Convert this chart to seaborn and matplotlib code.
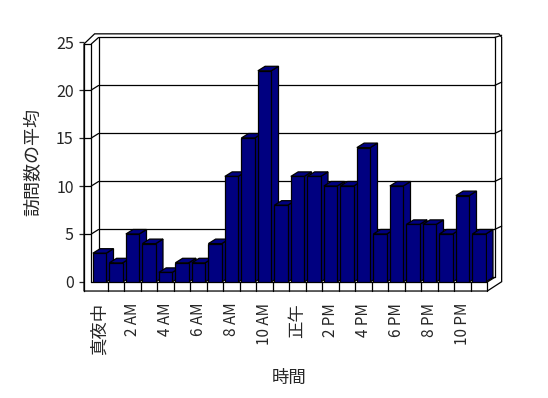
import matplotlib
matplotlib.use('Agg')
import matplotlib.pyplot as plt
from matplotlib.patches import Polygon
import seaborn as sns
import pandas as pd

# 時間帯ごとの訪問数の平均
hours = ['真夜中', '1 AM', '2 AM', '3 AM', '4 AM', '5 AM', '6 AM', '7 AM',
         '8 AM', '9 AM', '10 AM', '11 AM', '正午', '1 PM', '2 PM', '3 PM',
         '4 PM', '5 PM', '6 PM', '7 PM', '8 PM', '9 PM', '10 PM', '11 PM']
visits = [3, 2, 5, 4, 1, 2, 2, 4, 11, 15, 22, 8,
          11, 11, 10, 10, 14, 5, 10, 6, 6, 5, 9, 5]
y_ticks = [0, 5, 10, 15, 20, 25]

df = pd.DataFrame({'時間': hours, '訪問数の平均': visits})

sns.set_style('white')
plt.rcParams['font.family'] = ['Noto Sans CJK JP', 'DejaVu Sans']

fig = plt.figure(figsize=(5.48, 3.98), dpi=100)
ax = fig.add_axes([91.3 / 548, 116 / 398, 396 / 548, 240 / 398])

navy = '#000080'
sns.barplot(data=df, x='時間', y='訪問数の平均', order=hours, color=navy,
            saturation=1, width=0.81, edgecolor='black', linewidth=0.9, ax=ax)

ax.set_xlim(-0.5, 23.5)
ax.set_ylim(0, 25)

# 奥行き (3D っぽく)
dx, dy = 0.44, 0.47
wx, wy = 0.44, 0.94          # 壁と床の厚み
bx0, bx1 = -0.5 + dx, 23.5 + dx
top_front = 24.8
lw = 0.9
kw = dict(color='black', lw=lw, clip_on=False, zorder=1)

# 外枠
outline = [(-0.5 - wx, -wy), (-0.5 - wx, top_front), (-0.3, 25.85),
           (24.2, 25.85), (24.37, 25.5), (24.37, 0.03), (23.5, -wy)]
ax.add_patch(Polygon(outline, closed=True, fill=False, edgecolor='black',
                     lw=lw, clip_on=False, zorder=1))
ax.plot([-0.5 - wx, -0.5], [top_front, top_front], **kw)
ax.plot([-0.5, -0.5], [0, top_front], **kw)
ax.plot([-0.5, bx0], [top_front, 25 + dy], **kw)
ax.plot([bx0, bx1], [25 + dy, 25 + dy], **kw)
ax.plot([bx0, bx0], [dy, 25 + dy], **kw)
ax.plot([bx1, bx1], [dy, 25 + dy], **kw)
ax.plot([bx1, 24.37], [25 + dy, 25.7], **kw)
ax.plot([bx0, bx1], [dy, dy], **kw)
ax.plot([-0.5, 23.5], [0, 0], **kw)
ax.plot([23.5, 23.5], [-wy, 0], **kw)
ax.plot([23.5, bx1], [0, dy], **kw)
for k in range(1, 24):
    ax.plot([k - 0.5, k - 0.5], [-wy, 0], **kw)

# 目盛線
for v in y_ticks[1:-1]:
    ax.plot([-0.5 - wx, -0.5], [v, v], **kw)
    ax.plot([-0.5, bx0], [v, v + dy], **kw)
    ax.plot([bx0, bx1], [v + dy, v + dy], **kw)
    ax.plot([bx1, 24.37], [v + dy, v + dy + 0.35], **kw)

# 棒の側面と上面
for i, bar in enumerate(ax.patches[:len(visits)]):
    x0 = bar.get_x()
    x1 = x0 + bar.get_width()
    h = bar.get_height()
    z = 3 + i * 0.01
    bar.set_zorder(z + 0.005)
    side = [(x1, 0), (x1, h), (x1 + dx, h + dy), (x1 + dx, dy)]
    top = [(x0, h), (x1, h), (x1 + dx, h + dy), (x0 + dx, h + dy)]
    for pts in (side, top):
        ax.add_patch(Polygon(pts, closed=True, facecolor=navy, edgecolor='black',
                             lw=lw, clip_on=False, zorder=z))

for s in ['top', 'right', 'bottom']:
    ax.spines[s].set_visible(False)
ax.spines['left'].set_position(('outward', 7.3 * 0.72))
ax.spines['left'].set_bounds(-wy, top_front)
ax.spines['left'].set_linewidth(lw)
ax.spines['left'].set_color('black')

ax.set_yticks(y_ticks)
ax.set_yticklabels([str(v) for v in y_ticks])
ax.tick_params(axis='y', direction='out', length=3.3, width=lw, pad=4,
               labelsize=11.5, left=True)

ax.set_xticks(range(0, 24, 2))
ax.set_xticklabels(hours[::2], rotation=90, va='top', ha='center')
ax.tick_params(axis='x', length=0, pad=15, labelsize=11)
for lab in ax.get_xticklabels():
    if not lab.get_text()[0].isdigit():
        lab.set_fontsize(12.5)

ax.set_xlabel('時間', fontsize=12.5, labelpad=10)
ax.set_ylabel('訪問数の平均', fontsize=13, labelpad=10)
ax.grid(False)

fig.savefig('out.png', dpi=100, facecolor='white')
